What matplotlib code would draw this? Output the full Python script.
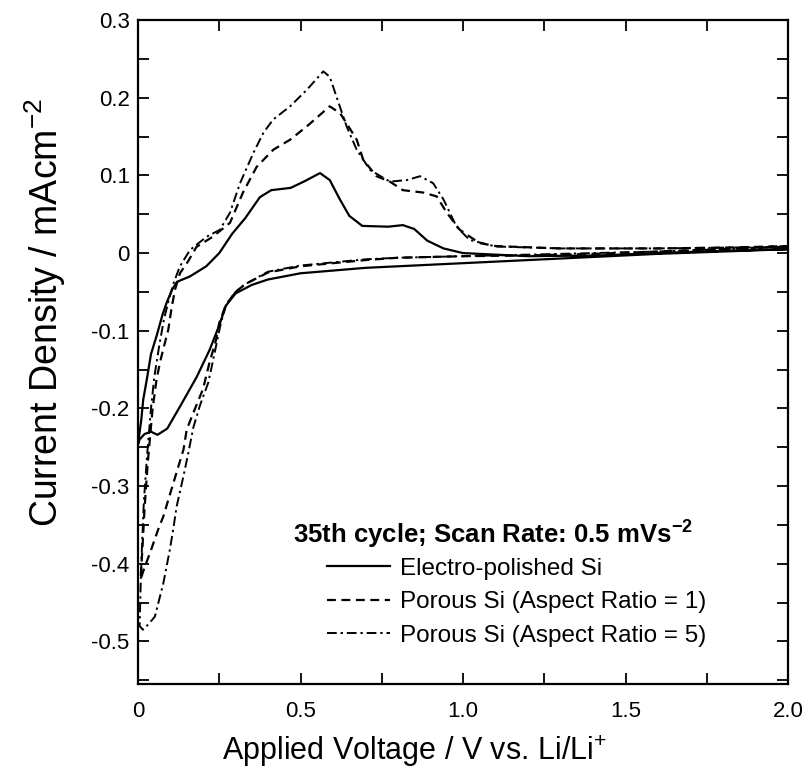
import matplotlib.pyplot as plt
from matplotlib.ticker import MultipleLocator, FuncFormatter

plt.rcParams['font.family'] = ['Liberation Sans', 'DejaVu Sans']

# Electro-polished Si: cathodic sweep (2.0 -> 0 V) then anodic sweep (0 -> 2.0 V)
v_polished = [2.0, 1.8, 1.6, 1.5, 1.3, 1.1, 0.9, 0.7, 0.5, 0.4, 0.35, 0.3, 0.27,
              0.25, 0.22, 0.18, 0.13, 0.09, 0.06, 0.04, 0.02, 0.005, 0.0,
              0.01, 0.016, 0.027, 0.04, 0.057, 0.075, 0.088, 0.105, 0.12, 0.16,
              0.21, 0.25, 0.29, 0.33, 0.375, 0.41, 0.47, 0.51, 0.56, 0.59, 0.62,
              0.65, 0.69, 0.77, 0.815, 0.85, 0.89, 0.94, 1.0, 1.2, 1.42, 1.6,
              1.8, 2.0]
i_polished = [0.005, 0.002, -0.001, -0.003, -0.007, -0.011, -0.015, -0.019,
              -0.026, -0.034, -0.041, -0.052, -0.068, -0.093, -0.125, -0.16,
              -0.197, -0.226, -0.234, -0.23, -0.233, -0.24, -0.246,
              -0.215, -0.189, -0.163, -0.13, -0.107, -0.08, -0.064, -0.047,
              -0.037, -0.03, -0.017, 0.0, 0.025, 0.045, 0.072, 0.081, 0.084,
              0.092, 0.103, 0.094, 0.07, 0.048, 0.035, 0.034, 0.036, 0.031,
              0.016, 0.006, 0.0, -0.004, -0.003, 0.0, 0.003, 0.005]

# Porous Si, aspect ratio 1
v_ar1 = [2.0, 1.8, 1.6, 1.4, 1.2, 1.0, 0.8, 0.7, 0.5, 0.4, 0.33, 0.3, 0.27,
         0.25, 0.24, 0.22, 0.2, 0.17, 0.15, 0.14, 0.124, 0.109, 0.093, 0.078,
         0.062, 0.037, 0.02, 0.008,
         0.015, 0.02, 0.03, 0.045, 0.057, 0.068, 0.08, 0.093, 0.104, 0.114,
         0.129, 0.155, 0.18, 0.23, 0.283, 0.323, 0.365, 0.416, 0.468, 0.519,
         0.56, 0.59, 0.622, 0.642, 0.673, 0.693, 0.734, 0.775, 0.815, 0.877,
         0.919, 0.95, 0.99, 1.05, 1.1, 1.3, 1.6, 1.8, 2.0]
i_ar1 = [0.009, 0.005, 0.002, -0.001, -0.003, -0.004, -0.006, -0.009, -0.017,
         -0.025, -0.04, -0.05, -0.067, -0.09, -0.112, -0.141, -0.175, -0.206,
         -0.227, -0.253, -0.275, -0.296, -0.318, -0.339, -0.356, -0.386,
         -0.405, -0.42,
         -0.37, -0.33, -0.27, -0.2, -0.163, -0.14, -0.12, -0.099, -0.069,
         -0.047, -0.026, -0.01, 0.008, 0.021, 0.039, 0.078, 0.111, 0.133,
         0.146, 0.163, 0.178, 0.189, 0.18, 0.167, 0.146, 0.12, 0.099, 0.092,
         0.081, 0.078, 0.073, 0.052, 0.03, 0.013, 0.009, 0.006, 0.006, 0.007,
         0.009]

# Porous Si, aspect ratio 5
v_ar5 = [2.0, 1.8, 1.6, 1.4, 1.2, 1.0, 0.8, 0.7, 0.5, 0.4, 0.33, 0.3, 0.27,
         0.255, 0.245, 0.23, 0.216, 0.19, 0.17, 0.155, 0.14, 0.119, 0.109,
         0.098, 0.078, 0.052, 0.032, 0.015, 0.005,
         0.008, 0.012, 0.018, 0.028, 0.04, 0.05, 0.065, 0.08, 0.095, 0.11,
         0.129, 0.16, 0.211, 0.252, 0.283, 0.314, 0.355, 0.386, 0.416, 0.468,
         0.519, 0.57, 0.59, 0.611, 0.642, 0.673, 0.714, 0.775, 0.827, 0.868,
         0.908, 0.94, 0.98, 1.02, 1.1, 1.3, 1.6, 1.8, 2.0]
i_ar5 = [0.008, 0.005, 0.002, 0.0, -0.002, -0.004, -0.006, -0.008, -0.016,
         -0.024, -0.04, -0.05, -0.068, -0.09, -0.11, -0.14, -0.167, -0.197,
         -0.225, -0.257, -0.287, -0.326, -0.354, -0.382, -0.425, -0.468,
         -0.478, -0.485, -0.48,
         -0.43, -0.38, -0.32, -0.26, -0.2, -0.16, -0.12, -0.085, -0.06,
         -0.038, -0.017, 0.004, 0.021, 0.03, 0.052, 0.09, 0.129, 0.155, 0.172,
         0.189, 0.21, 0.234, 0.227, 0.201, 0.163, 0.133, 0.107, 0.092, 0.094,
         0.099, 0.09, 0.069, 0.034, 0.017, 0.0085, 0.006, 0.006, 0.007, 0.008]

labels = ['Electro-polished Si', 'Porous Si (Aspect Ratio = 1)',
          'Porous Si (Aspect Ratio = 5)']

fig = plt.figure(figsize=(8.07, 7.73), dpi=100)
ax = fig.add_axes([0.171, 0.115, 0.8055, 0.859])

ax.plot(v_polished, i_polished, color='black', lw=1.6, linestyle='-', label=labels[0])
ax.plot(v_ar1, i_ar1, color='black', lw=1.6, linestyle=(0, (4, 2.5)), label=labels[1])
ax.plot(v_ar5, i_ar5, color='black', lw=1.4, linestyle=(0, (5, 2, 1.2, 2)), label=labels[2])

ax.set_xlim(0, 2.0)
ax.set_ylim(-0.555, 0.3)

ax.xaxis.set_major_locator(MultipleLocator(0.5))
ax.xaxis.set_minor_locator(MultipleLocator(0.25))
ax.yaxis.set_major_locator(MultipleLocator(0.1))
ax.yaxis.set_minor_locator(MultipleLocator(0.05))


def fmt_tick(val, pos):
    if abs(val) < 1e-9:
        return '0'
    return '%.1f' % val


ax.xaxis.set_major_formatter(FuncFormatter(fmt_tick))
ax.yaxis.set_major_formatter(FuncFormatter(fmt_tick))

ax.tick_params(which='both', direction='in', top=True, right=True,
               length=8, width=1.3, labelsize=16)
ax.tick_params(axis='x', pad=12)
ax.tick_params(axis='y', pad=6)
for s in ax.spines.values():
    s.set_linewidth(1.6)

ax.set_xlabel('Applied Voltage / V vs. Li/Li$\\mathregular{^{+}}$', fontsize=22)
ax.xaxis.set_label_coords(0.426, -0.075)
ax.set_ylabel('Current Density / mAcm$\\mathregular{^{-2}}$', fontsize=27)
ax.yaxis.set_label_coords(-0.108, 0.56)

ax.text(0.2385, 0.2244, '35th cycle; Scan Rate: 0.5 mVs$\\mathregular{^{-2}}$',
        transform=ax.transAxes, fontsize=18.5, fontweight='bold',
        ha='left', va='center')
ax.legend(loc='upper left', bbox_to_anchor=(0.291, 0.19), frameon=False,
          fontsize=17.5, handlelength=2.6, handletextpad=0.4,
          labelspacing=0.47, borderpad=0, borderaxespad=0)

fig.savefig('out.png', dpi=100)
